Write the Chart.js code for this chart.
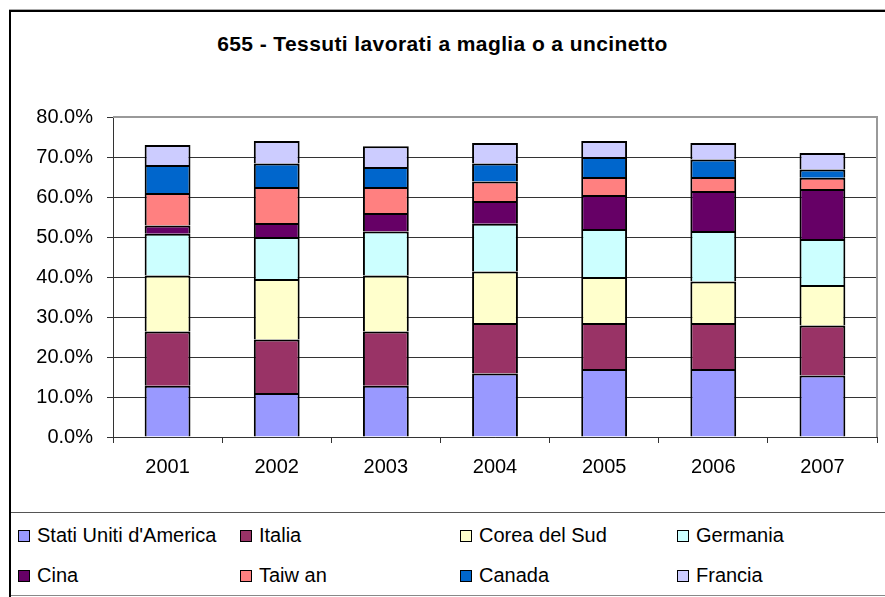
<!DOCTYPE html>
<html>
<head>
<meta charset="utf-8">
<script src="https://cdn.jsdelivr.net/npm/chart.js@4/dist/chart.umd.min.js"></script>
<style>
  body { margin: 0; background: #fff; font-family: "Liberation Sans", Arial, sans-serif; }
  #frame { position: absolute; left: 9px; top: 10px; width: 900px; height: 600px; border-top: 2px solid #000; border-left: 2px solid #000; box-shadow: 0 -1px 0 #aaa; }
  #title { position: absolute; left: 0; width: 885px; top: 32px; text-align: center; font-weight: bold; font-size: 21px; letter-spacing: 0.4px; color: #000; }
  #chart { position: absolute; left: 0; top: 0; }
  #legend { position: absolute; left: 11px; top: 512px; width: 900px; height: 82px; border-top: 1px solid #555; border-bottom: 1px solid #888; }
  .item { position: absolute; font-size: 20px; line-height: 22px; color: #000; white-space: nowrap; }
  .item span.box { display: inline-block; width: 10px; height: 10px; border: 1px solid #000; margin-right: 7px; vertical-align: 0px; }
</style>
</head>
<body>
<div id="frame"></div>
<div id="title">655 - Tessuti lavorati a maglia o a uncinetto</div>
<canvas id="chart" width="885" height="500"></canvas>
<div id="legend"></div>
<script>
// Anni
const years = ['2001', '2002', '2003', '2004', '2005', '2006', '2007'];

// quote percentuali per paese
const statiUniti = [12.8, 11.0, 12.8, 15.9, 17.0, 17.0, 15.4];
const italia     = [13.6, 13.4, 13.6, 12.6, 11.5, 11.5, 12.5];
const corea      = [14.0, 15.1, 14.0, 12.9, 11.5, 10.4, 10.1];
const germania   = [10.4, 10.5, 11.0, 11.9, 12.0, 12.6, 11.5];
const cina       = [2.1, 3.5, 4.6, 5.7, 8.5, 10.0, 12.5];
const taiwan     = [8.1, 9.0, 6.5, 4.9, 4.5, 3.5, 2.8];
const canada     = [7.0, 5.9, 5.0, 4.5, 5.0, 4.4, 2.1];
const francia    = [5.0, 5.6, 5.2, 5.1, 4.0, 4.1, 4.1];

const names = ["Stati Uniti d'America", 'Italia', 'Corea del Sud', 'Germania', 'Cina', 'Taiw an', 'Canada', 'Francia'];
const colors = ['#9999FF', '#993366', '#FFFFCC', '#CCFFFF', '#660066', '#FF8080', '#0066CC', '#CCCCFF'];
const series = [statiUniti, italia, corea, germania, cina, taiwan, canada, francia];

const datasets = series.map((s, i) => ({
  label: names[i],
  data: s,
  backgroundColor: colors[i],
  borderColor: '#000',
  borderWidth: 2,
  barPercentage: 0.42,
  categoryPercentage: 1.0
}));

// bordo grigio dell'area del grafico
const plotBorder = {
  id: 'plotBorder',
  beforeDatasetsDraw(chart) {
    const a = chart.chartArea;
    const c = chart.ctx;
    c.save();
    c.strokeStyle = '#999';
    c.lineWidth = 2;
    c.beginPath();
    c.moveTo(a.left, a.top);
    c.lineTo(a.right, a.top);
    c.lineTo(a.right, a.bottom);
    c.stroke();
    c.restore();
  }
};

const ctx = document.getElementById('chart');

new Chart(ctx, {
  type: 'bar',
  data: { labels: years, datasets: datasets },
  plugins: [plotBorder],
  options: {
    responsive: false,
    animation: false,
    layout: { padding: { left: 0, right: 8, top: 117, bottom: 0 } },
    plugins: {
      legend: { display: false },
      title: { display: false },
      tooltip: { enabled: false }
    },
    scales: {
      x: {
        stacked: true,
        offset: true,
        afterFit(scale) { scale.height = 63; },
        grid: { offset: true, drawOnChartArea: false, drawTicks: true, tickLength: 6, color: '#333' },
        border: { color: '#333' },
        ticks: { color: '#000', font: { family: 'Liberation Sans', size: 20 }, padding: 12 }
      },
      y: {
        stacked: true,
        min: 0,
        max: 80,
        afterFit(scale) { scale.width = 113; },
        grid: { color: '#333', tickLength: 6 },
        border: { color: '#333' },
        ticks: {
          stepSize: 10,
          color: '#000',
          padding: 14,
          font: { family: 'Liberation Sans', size: 20 },
          callback: v => v.toFixed(1) + '%'
        }
      }
    }
  }
});

// legenda su due righe, quattro colonne
const leg = document.getElementById('legend');
const colX = [7, 229, 449, 666];
const rowY = [11, 51];
names.forEach((n, i) => {
  const d = document.createElement('div');
  d.className = 'item';
  d.style.left = colX[i % 4] + 'px';
  d.style.top = rowY[Math.floor(i / 4)] + 'px';
  d.innerHTML = '<span class="box" style="background:' + colors[i] + '"></span>' + n;
  leg.appendChild(d);
});
</script>
</body>
</html>
